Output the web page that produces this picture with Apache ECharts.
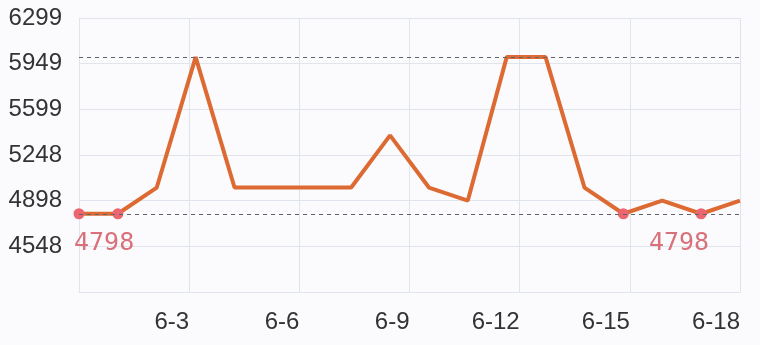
<!DOCTYPE html>
<html>
<head>
<meta charset="utf-8">
<script src="https://cdn.jsdelivr.net/npm/echarts@6/dist/echarts.min.js"></script>
<style>
html,body{margin:0;padding:0;background:#fbfbfd;}
#c{width:760px;height:345px;}
</style>
</head>
<body>
<div id="c"></div>
<script>
const categories = ['6-1','6-2','6-3','6-4','6-5','6-6','6-7','6-8','6-9','6-10','6-11','6-12','6-13','6-14','6-15','6-16','6-17','6-18'];
const prices = [4798,4798,4999,5999,4999,4999,4999,4999,5399,4999,4899,5999,5999,4999,4798,4899,4798,4899];
const xTickLabels = ['','6-3','6-6','6-9','6-12','6-15','6-18'];
const yTickLabels = ['','4548','4898','5248','5599','5949','6299'];

const minV = Math.min(...prices);
const firstMin = prices.indexOf(minV);
const lastMin = prices.lastIndexOf(minV);

const data = prices.map((v, i) => {
  const item = { value: v, symbol: v === minV ? 'circle' : 'none' };
  if (i === firstMin || i === lastMin) {
    item.label = {
      show: true,
      position: 'inside',
      align: i === firstMin ? 'left' : 'right',
      verticalAlign: 'middle',
      offset: i === firstMin ? [-5, 30] : [8, 30],
      formatter: String(v),
      fontFamily: '"DejaVu Sans Mono", monospace',
      fontSize: 25,
      color: '#d9707a'
    };
  }
  return item;
});

const gridLine = '#e0e4ec';
const chart = echarts.init(document.getElementById('c'));
chart.setOption({
  backgroundColor: '#fbfbfd',
  animation: false,
  grid: { left: 79, right: 20, top: 18, bottom: 53, containLabel: false },
  xAxis: [
    { type: 'category', data: categories, boundaryGap: false, show: false },
    {
      type: 'value', min: 0, max: 6, interval: 1, position: 'bottom',
      axisLine: { show: true, lineStyle: { color: gridLine } },
      axisTick: { show: false },
      splitLine: { show: true, lineStyle: { color: gridLine } },
      axisLabel: {
        formatter: (v) => xTickLabels[Math.round(v)] || '',
        align: 'right', margin: 18,
        fontFamily: 'Liberation Sans', fontSize: 24, color: '#333'
      }
    }
  ],
  yAxis: [
    { type: 'value', min: 4198, max: 6299, show: false },
    {
      type: 'value', min: 0, max: 6, interval: 1, position: 'left',
      axisLine: { show: true, lineStyle: { color: gridLine } },
      axisTick: { show: false },
      splitLine: { show: true, lineStyle: { color: gridLine } },
      axisLabel: {
        formatter: (v) => yTickLabels[Math.round(v)] || '',
        margin: 17,
        fontFamily: 'Liberation Sans', fontSize: 24, color: '#333'
      }
    }
  ],
  series: [
    {
      type: 'line',
      xAxisIndex: 0, yAxisIndex: 0,
      data: data,
      showAllSymbol: true,
      symbolSize: 11,
      lineStyle: { color: '#dd6a32', width: 4 },
      itemStyle: { color: '#ec6670' },
      z: 3,
      markLine: {
        silent: true,
        symbol: 'none',
        label: { show: false },
        lineStyle: { color: '#5f636e', width: 1, type: [4, 4] },
        data: [{ type: 'min' }, { type: 'max' }]
      }
    }
  ]
});
</script>
</body>
</html>
